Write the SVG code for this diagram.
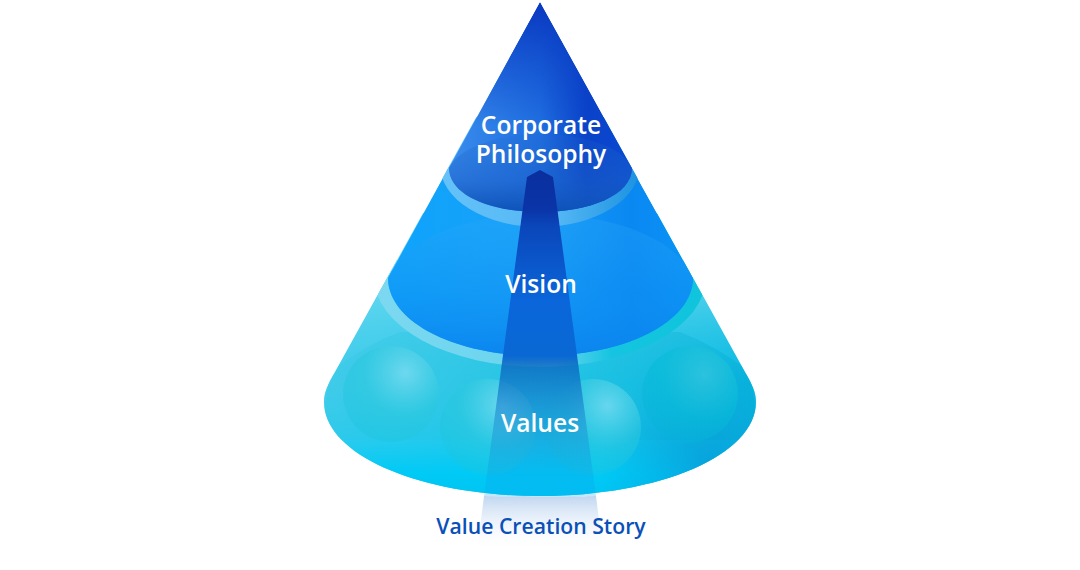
<svg xmlns="http://www.w3.org/2000/svg" width="1080" height="570" viewBox="0 0 1080 570">
<style>
.l{font-family:"Open Sans","Noto Sans","Liberation Sans",sans-serif;font-weight:600;fill:#fff;text-anchor:middle}
.s{stroke:none}
</style>
<defs>
<clipPath id="cone"><path d="M540 2L745 372C752 384 756 392 756 402C756 455 660 496 540 496C420 496 324 455 324 402C324 392 328 384 335 372Z"/></clipPath>
<linearGradient id="base" x1="0" y1="0" x2="1" y2="0"><stop offset="0" stop-color="#48cdec"/><stop offset=".5" stop-color="#2cc6e6"/><stop offset="1" stop-color="#02b6e0"/></linearGradient>
<linearGradient id="baseV" gradientUnits="userSpaceOnUse" x1="0" y1="270" x2="0" y2="496"><stop offset="0" stop-color="#8ae2f4" stop-opacity=".7"/><stop offset=".5" stop-color="#30cdea" stop-opacity=".15"/><stop offset=".78" stop-color="#00caf4" stop-opacity=".5"/><stop offset=".9" stop-color="#00caf6"/><stop offset="1" stop-color="#00c4f2"/></linearGradient>
<radialGradient id="baseR" gradientUnits="userSpaceOnUse" cx="710" cy="465" r="110"><stop offset="0" stop-color="#0a90d0" stop-opacity=".65"/><stop offset="1" stop-color="#0a96d8" stop-opacity="0"/></radialGradient>
<linearGradient id="backB" x1="0" y1="0" x2="1" y2="0"><stop offset="0" stop-color="#36c6e4" stop-opacity=".5"/><stop offset=".6" stop-color="#10bcdc" stop-opacity=".5"/><stop offset="1" stop-color="#00a8d0" stop-opacity=".6"/></linearGradient>
<linearGradient id="vis" x1="0" y1="0" x2="1" y2="0"><stop offset="0" stop-color="#0ea4fc"/><stop offset=".45" stop-color="#18a0f8"/><stop offset=".8" stop-color="#0a88f2"/><stop offset="1" stop-color="#0a94f6"/></linearGradient>
<linearGradient id="visE" x1="0" y1="0" x2="0" y2="1"><stop offset="0" stop-color="#2ca8f8" stop-opacity=".3"/><stop offset=".55" stop-color="#1090f2" stop-opacity=".45"/><stop offset="1" stop-color="#0a84ee" stop-opacity=".95"/></linearGradient>
<linearGradient id="top" x1="0" y1="0" x2="1" y2="0"><stop offset="0" stop-color="#3a8cec"/><stop offset=".5" stop-color="#1f6ee0"/><stop offset=".75" stop-color="#0a42c8"/><stop offset="1" stop-color="#0a4ad2"/></linearGradient>
<linearGradient id="topV" x1="0" y1="0" x2="0" y2="1"><stop offset="0" stop-color="#0a38c0"/><stop offset=".75" stop-color="#0a40c8" stop-opacity="0"/></linearGradient>
<linearGradient id="topE" x1="0" y1="0" x2="0" y2="1"><stop offset="0" stop-color="#1e66cc" stop-opacity=".15"/><stop offset=".6" stop-color="#1a60c8" stop-opacity=".55"/><stop offset="1" stop-color="#0d52b8"/></linearGradient>
<linearGradient id="ringT" x1="0" y1="0" x2="1" y2="0"><stop offset="0" stop-color="#66c2f8"/><stop offset=".6" stop-color="#52b6f4"/><stop offset="1" stop-color="#1c92e0"/></linearGradient>
<linearGradient id="ringV" x1="0" y1="0" x2="1" y2="0"><stop offset="0" stop-color="#7cd8f0"/><stop offset=".55" stop-color="#66d4ee"/><stop offset=".72" stop-color="#14c4e0"/><stop offset="1" stop-color="#10c4dc"/></linearGradient>
<linearGradient id="beam" gradientUnits="userSpaceOnUse" x1="0" y1="170" x2="0" y2="496"><stop offset="0" stop-color="#0a2f9e"/><stop offset=".12" stop-color="#0a34a8"/><stop offset=".17" stop-color="#0a46ba"/><stop offset=".4" stop-color="#0a66da"/><stop offset=".57" stop-color="#0a68d4"/><stop offset=".6" stop-color="#0a66c0" stop-opacity=".8"/><stop offset=".8" stop-color="#1880d0" stop-opacity=".4"/><stop offset="1" stop-color="#08a8f0" stop-opacity=".25"/></linearGradient>
<linearGradient id="fade" x1="0" y1="0" x2="0" y2="1"><stop offset="0" stop-color="#c0d6f0"/><stop offset="1" stop-color="#fff" stop-opacity="0"/></linearGradient>
<radialGradient id="ball" cx=".65" cy=".28" r=".8"><stop offset="0" stop-color="#80def2" stop-opacity=".75"/><stop offset=".55" stop-color="#2cc8de" stop-opacity=".55"/><stop offset="1" stop-color="#18c4dc" stop-opacity=".35"/></radialGradient>
<radialGradient id="ballR" cx=".65" cy=".3" r=".75"><stop offset="0" stop-color="#38c8de" stop-opacity=".7"/><stop offset=".6" stop-color="#08bcd8" stop-opacity=".6"/><stop offset="1" stop-color="#04b4d8" stop-opacity=".4"/></radialGradient>
</defs>
<g id="values">
<g clip-path="url(#cone)">
<rect class="s" x="320" y="260" width="440" height="240" fill="url(#base)"/>
<rect class="s" x="320" y="260" width="440" height="240" fill="url(#baseV)"/>
<path class="s" d="M330 372Q365 345 400 332L680 332Q715 345 750 372L760 440L320 440Z" fill="url(#backB)" opacity=".6"/>
<rect class="s" x="560" y="340" width="200" height="160" fill="url(#baseR)"/>
</g>
<circle class="s" cx="391" cy="394" r="48" fill="url(#ball)"/>
<circle class="s" cx="488" cy="427" r="48" fill="url(#ball)"/>
<circle class="s" cx="593" cy="427" r="48" fill="url(#ball)"/>
<circle class="s" cx="690" cy="394" r="48" fill="url(#ballR)"/>
</g>
<g id="vision">
<g clip-path="url(#cone)">
<ellipse class="s" cx="540" cy="277" rx="166" ry="90" fill="url(#ringV)"/>
<path class="s" d="M450 165L630 165L693 278C693 322 625 356 540 356C455 356 388 322 388 278Z" fill="url(#vis)"/>
<path class="s" d="M388 278C405 238 470 214 540 214C610 214 678 238 693 278C693 322 625 356 540 356C455 356 388 322 388 278Z" fill="url(#visE)"/>
</g>
</g>
<g id="philosophy">
<g clip-path="url(#cone)">
<ellipse class="s" cx="540" cy="165" rx="100" ry="62" fill="url(#ringT)"/>
<path class="s" d="M540 2L632 168C632 195 590 212 540 212C490 212 449 195 449 168Z" fill="url(#top)"/>
<path class="s" d="M540 2L632 168L449 168Z" fill="url(#topV)"/>
<path class="s" d="M449 168C460 145 505 134 540 134C580 134 622 145 632 168C632 195 590 212 540 212C490 212 449 195 449 168Z" fill="url(#topE)"/>
</g>
</g>
<g id="beam-shape">
<path class="s" d="M484 496L477 552L603 552L596 496C580 497 500 497 484 496Z" fill="url(#fade)"/>
<path class="s" d="M540 170L553 177L596 496C575 497 505 497 484 496L527 177Z" fill="url(#beam)"/>
</g>
<g id="labels">
<text class="l" font-size="24.6"><tspan x="541" y="134">Corporate</tspan><tspan x="541" y="163">Philosophy</tspan></text>
<text class="l" x="541" y="293" font-size="24.6">Vision</text>
<text class="l" x="540" y="432" font-size="24.6">Values</text>
<text x="541" y="534" font-size="21.2" text-anchor="middle" font-weight="600" font-family="'Open Sans','Noto Sans','Liberation Sans',sans-serif" fill="#0a50b8">Value Creation Story</text>
</g>
</svg>
